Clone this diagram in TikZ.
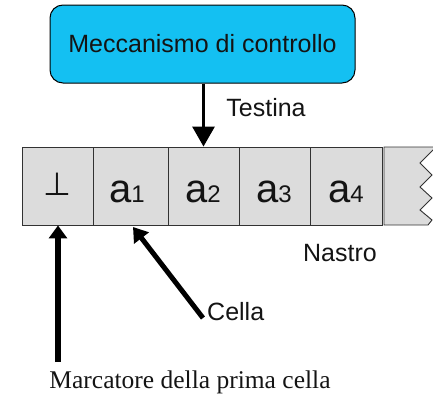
\documentclass[tikz,border=0pt]{standalone}
\usepackage{fontspec}
\setmainfont{Liberation Sans}
\newfontfamily\timesf{Liberation Serif}
\newfontfamily\symf{DejaVu Sans}
\usetikzlibrary{arrows.meta}
\definecolor{ctrlcyan}{RGB}{20,192,242}
\definecolor{cellgray}{RGB}{220,220,220}
\definecolor{celledge}{RGB}{50,50,50}
\definecolor{txt}{RGB}{20,20,20}
\tikzset{
  ctrlbox/.style={draw=black, line width=1pt, fill=ctrlcyan, rounded corners=13pt,
    minimum width=305pt, minimum height=78pt, inner sep=0pt, text=txt,
    font=\fontsize{25}{28}\selectfont},
  cell/.style={draw=celledge, line width=0.9pt, fill=cellgray, minimum height=78pt, inner sep=0pt},
  sym/.style={anchor=base, inner sep=0pt, text=txt, font=\fontsize{40}{44}\selectfont},
  lab/.style={inner sep=0pt, text=txt, font=\fontsize{25}{28}\selectfont},
  headarrow/.style={line width=3pt, -{Triangle[length=20pt,width=22pt]}},
  bigarrow/.style={line width=6pt, -{Triangle[length=13pt,width=18pt]}},
  cellarrow/.style={line width=5pt, -{Triangle[length=14pt,width=18pt]}},
}
\newcommand{\subd}[1]{{\fontsize{24}{28}\selectfont #1}}
\begin{document}
\begin{tikzpicture}[x=1pt,y=-1pt]
\useasboundingbox (0,0) rectangle (433,394);
% control
\node[ctrlbox] (ctrl) at (202.5,44) {Meccanismo di controllo};
% tape cells
\node[cell, minimum width=71pt] (c0) at (57.5,186) {};
\node[cell, minimum width=75pt] (c1) at (130.5,186) {};
\node[cell, minimum width=71pt] (c2) at (203.5,186) {};
\node[cell, minimum width=71pt] (c3) at (274.5,186) {};
\node[cell, minimum width=72pt] (c4) at (346,186) {};
\filldraw[fill=cellgray, draw=celledge, line width=0.9pt]
  (384,147) -- (434,147) -- (434,149) -- (420,163) -- (432,175) -- (420,187)
  -- (432,198) -- (420,210) -- (432,220) -- (428,225) -- (384,225) -- cycle;
% cell symbols
\node[sym, font=\symf\fontsize{32}{36}\selectfont] (s0) at (57,195) {⊥};
\node[sym] (s1) at (127,202) {a\subd{1}};
\node[sym] (s2) at (203,202) {a\subd{2}};
\node[sym] (s3) at (274,202) {a\subd{3}};
\node[sym] (s4) at (346,202) {a\subd{4}};
% head arrow
\draw[headarrow] (ctrl.south -| c2.north) -- (c2.north);
\node[lab] (testina) at (266,108) {Testina};
% labels
\node[lab] (nastro) at (340,253) {Nastro};
\coordinate (cellafrom) at (203,318);
\coordinate (cellato) at (133,227);
\draw[cellarrow] (cellafrom) -- (cellato);
\node[lab, anchor=west] (cella) at (207,312) {Cella};
\coordinate (markfrom) at (58,362);
\draw[bigarrow] (markfrom) -- (markfrom |- c0.south);
\node[inner sep=0pt, text=txt, font=\timesf\fontsize{25.5}{28}\selectfont] (marc) at (190,382) {Marcatore della prima cella};
\end{tikzpicture}
\end{document}
